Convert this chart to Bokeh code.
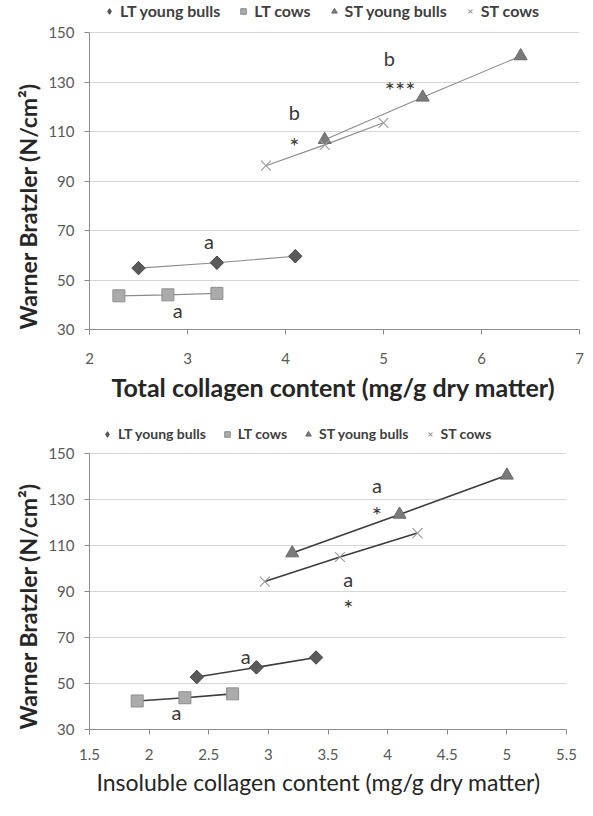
from bokeh.plotting import figure
from bokeh.layouts import column
from bokeh.models import Legend, LegendItem, FixedTicker, Range1d, Title
from bokeh.core.properties import value
from bokeh.embed import file_html
from bokeh.resources import INLINE

FONT = "Lato"

# ---------- data: top chart (total collagen) ----------
tot_lt_bulls_x = [2.5, 3.3, 4.1]
tot_lt_bulls_y = [54.8, 57.0, 59.6]
tot_lt_cows_x = [2.3, 2.8, 3.3]
tot_lt_cows_y = [43.6, 44.0, 44.6]
tot_st_bulls_x = [4.4, 5.4, 6.4]
tot_st_bulls_y = [106.7, 123.8, 140.5]
tot_st_cows_x = [3.8, 4.4, 5.0]
tot_st_cows_y = [96.2, 104.6, 113.5]
tot_xticks = [2, 3, 4, 5, 6, 7]
tot_letter_text = ["b", "b", "a", "a"]
tot_letter_x = [5.06, 4.09, 3.22, 2.90]
tot_letter_y = [139.6, 118.0, 65.9, 37.8]
tot_star_text = ["***", "*"]
tot_star_x = [5.17, 4.09]
tot_star_y = [127.0, 104.4]

# ---------- data: bottom chart (insoluble collagen) ----------
ins_lt_bulls_x = [2.4, 2.9, 3.4]
ins_lt_bulls_y = [52.8, 57.0, 61.3]
ins_lt_cows_x = [1.9, 2.3, 2.7]
ins_lt_cows_y = [42.4, 43.8, 45.5]
ins_st_bulls_x = [3.2, 4.1, 5.0]
ins_st_bulls_y = [106.7, 123.5, 140.5]
ins_st_cows_x = [2.97, 3.6, 4.25]
ins_st_cows_y = [94.3, 105.0, 115.4]
ins_xticks = [1.5, 2, 2.5, 3, 3.5, 4, 4.5, 5, 5.5]
ins_xtick_labels = ["1.5", "2", "2.5", "3", "3.5", "4", "4.5", "5", "5.5"]
ins_letter_text = ["a", "a", "a", "a"]
ins_letter_x = [3.91, 3.67, 2.81, 2.23]
ins_letter_y = [136.2, 95.5, 62.0, 37.4]
ins_star_text = ["*", "*"]
ins_star_x = [3.91, 3.67]
ins_star_y = [123.3, 83.2]

y_min, y_max = 30, 150
yticks = [30, 50, 70, 90, 110, 130, 150]
series_labels = ["LT young bulls", "LT cows", "ST young bulls", "ST cows"]
y_title = "Warner Bratzler (N/cm²)"

DIAMOND_LEG = dict(marker="diamond", size=13, fill_color="#5a5a5a", line_color="#4a4a4a")
DIAMOND = dict(marker="square", angle=0.785398, size=9.5, fill_color="#5a5a5a", line_color="#4a4a4a")
SQUARE = dict(marker="square", size=12, fill_color="#ababab", line_color="#8e8e8e")
TRIANGLE = dict(marker="triangle", size=13, fill_color="#7a7a7a", line_color="#6a6a6a")
CROSS = dict(marker="x", size=14, line_color="#9a9a9a", line_width=1.1)
STYLES = [DIAMOND, SQUARE, TRIANGLE, CROSS]


def make_chart(series, xr, xticks, xlabels, xtitle, xtitle_bold, xtitle_size, xtitle_offset,
               letters, stars, line_color, line_width,
               fw, plot_h, extra_top, b_bottom, b_left, b_right,
               xlab_standoff, xtitle_standoff, ytitle_standoff,
               legend_size, legend_loc, legend_spacing):
    fh = plot_h + extra_top
    # the frame also holds the legend strip above the 150 gridline
    top_val = y_min + (y_max - y_min) * fh / plot_h
    p = figure(frame_width=fw, frame_height=fh, output_backend="svg", toolbar_location=None,
               x_range=Range1d(*xr), y_range=Range1d(y_min, top_val),
               min_border_top=0, min_border_bottom=b_bottom,
               min_border_left=b_left, min_border_right=b_right)
    p.outline_line_color = None
    p.background_fill_color = "white"
    p.border_fill_color = "white"
    p.xgrid.grid_line_color = None
    p.ygrid.grid_line_color = "#d6d6d6"
    p.ygrid.grid_line_width = 1

    p.yaxis.ticker = FixedTicker(ticks=yticks)
    p.yaxis.bounds = (y_min, y_max)
    p.xaxis.ticker = FixedTicker(ticks=xticks)
    if xlabels is not None:
        p.xaxis.major_label_overrides = {t: l for t, l in zip(xticks, xlabels)}
    for ax in (p.xaxis[0], p.yaxis[0]):
        ax.axis_line_color = "#8c8c8c"
        ax.major_tick_line_color = "#8c8c8c"
        ax.major_tick_in = 0
        ax.major_tick_out = 5
        ax.minor_tick_line_color = None
        ax.major_label_text_font = FONT
        ax.major_label_text_font_size = "15px"
        ax.major_label_text_color = "#595959"
        ax.major_label_standoff = 10
    p.xaxis.major_label_standoff = xlab_standoff

    p.add_layout(Title(text=y_title, align="left", text_font=FONT, text_font_size="23px",
                       text_font_style="bold", text_color="#262626",
                       standoff=ytitle_standoff), "left")
    p.add_layout(Title(text=xtitle, align="left", offset=xtitle_offset, text_font=FONT,
                       text_font_size=xtitle_size,
                       text_font_style="bold" if xtitle_bold else "normal",
                       text_color="#262626", standoff=xtitle_standoff), "below")

    for xs, ys in series:
        p.line(xs, ys, line_color=line_color, line_width=line_width)
    # diamond used for the legend key, covered by the rotated-square markers in the plot
    (bx, by) = series[0]
    r_leg = p.scatter(bx, by, **DIAMOND_LEG)
    rs = [p.scatter(xs, ys, **st) for (xs, ys), st in zip(series, STYLES)]
    rs[0] = r_leg

    lx, ly, lt = letters
    p.text(lx, ly, text=lt, text_font=value(FONT), text_font_size="20px",
           text_color="#383838", text_align="center", text_baseline="middle")
    sx, sy, stt = stars
    p.text(sx, sy, text=stt, text_font=value(FONT), text_font_size="24px",
           text_color="#383838", text_align="center", text_baseline="middle")

    legend = Legend(items=[LegendItem(label=lab, renderers=[r]) for lab, r in zip(series_labels, rs)],
                    orientation="horizontal", location=legend_loc,
                    border_line_color=None, background_fill_alpha=0,
                    label_text_font=FONT, label_text_font_size=legend_size,
                    label_text_font_style="bold", label_text_color="#404040",
                    glyph_width=14, glyph_height=14, label_standoff=4,
                    spacing=legend_spacing, padding=0, margin=0)
    p.add_layout(legend, "center")
    return p


top = make_chart(
    [(tot_lt_bulls_x, tot_lt_bulls_y), (tot_lt_cows_x, tot_lt_cows_y),
     (tot_st_bulls_x, tot_st_bulls_y), (tot_st_cows_x, tot_st_cows_y)],
    (2, 7), tot_xticks, None, "Total collagen content (mg/g dry matter)", True, "25px", 22,
    (tot_letter_x, tot_letter_y, tot_letter_text), (tot_star_x, tot_star_y, tot_star_text),
    "#8c8c8c", 1.1,
    490, 297, 32, 77, 89, 6, 18, 7, 8, "16px", (13, 309), 16)

bottom = make_chart(
    [(ins_lt_bulls_x, ins_lt_bulls_y), (ins_lt_cows_x, ins_lt_cows_y),
     (ins_st_bulls_x, ins_st_bulls_y), (ins_st_cows_x, ins_st_cows_y)],
    (1.5, 5.5), ins_xticks, ins_xtick_labels, "Insoluble collagen content (mg/g dry matter)", False,
    "23px", 7,
    (ins_letter_x, ins_letter_y, ins_letter_text), (ins_star_x, ins_star_y, ins_star_text),
    "#3c3c3c", 1.6,
    477, 276, 47, 71, 80, 28, 14, 6, 8, "14px", (11, 287), 14)

layout = column(top, bottom, spacing=0)
open("out.html", "w").write(file_html(layout, INLINE))
